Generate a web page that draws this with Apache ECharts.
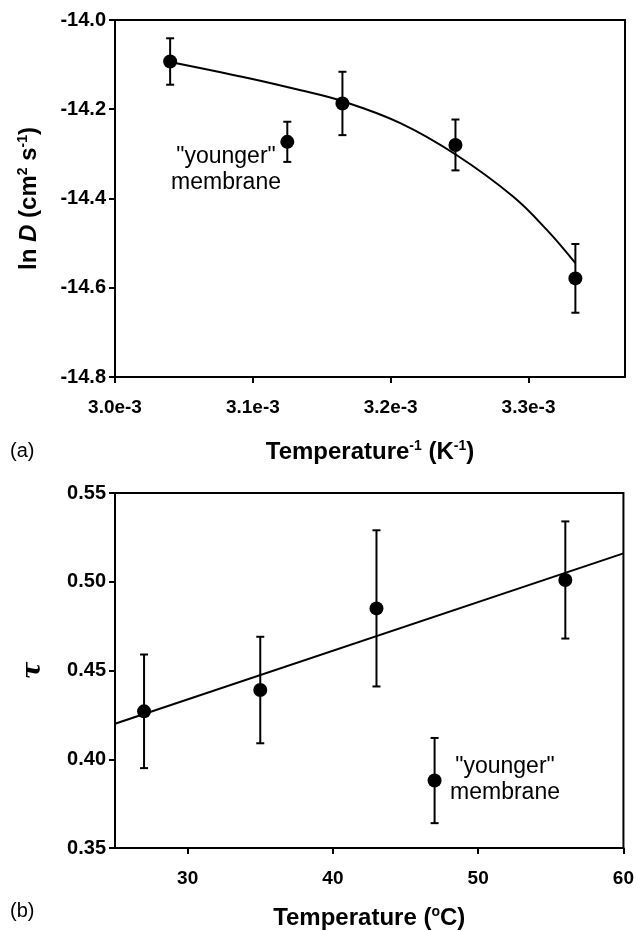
<!DOCTYPE html>
<html>
<head>
<meta charset="utf-8">
<script src="https://cdn.jsdelivr.net/npm/echarts@6/dist/echarts.min.js"></script>
<style>
html,body{margin:0;padding:0;background:#fff;}
#c{width:637px;height:931px;}
</style>
</head>
<body>
<div id="c"></div>
<script>
// ---- Panel (a): ln D vs 1/T ----
var invT = [0.003040, 0.003165, 0.003247, 0.003334];
var lnD = [-14.093, -14.187, -14.280, -14.579];
var lnDErr = [0.052, 0.071, 0.057, 0.077];
var youngInvT = [0.003125];
var youngLnD = [-14.273];
var youngLnDErr = [0.045];
// fitted curve
var curveX = [0.003040, 0.003098, 0.003134, 0.003165, 0.003207, 0.003248, 0.003289, 0.0033135, 0.003334];
var curveY = [-14.094, -14.131, -14.157, -14.182, -14.231, -14.303, -14.396, -14.471, -14.545];
var xTicksA = [0.0030, 0.0031, 0.0032, 0.0033];

// ---- Panel (b): tau vs T ----
var tempC = [27, 35, 43, 56];
var tau = [0.427, 0.439, 0.485, 0.501];
var tauErr = [0.032, 0.030, 0.044, 0.033];
var youngT = [47];
var youngTau = [0.388];
var youngTauErr = [0.024];
var fitT = [25, 60];
var fitTau = [0.420, 0.516];
var xTicksB = [30, 40, 50, 60];

var FONT = '"Liberation Sans", Arial, Helvetica, sans-serif';
var chart = echarts.init(document.getElementById('c'));

function zip(a, b) { return a.map(function (v, i) { return [v, b[i]]; }); }
function errData(xs, ys, es) { return xs.map(function (v, i) { return [v, ys[i] - es[i], ys[i] + es[i]]; }); }
function errRender(params, api) {
  var lo = api.coord([api.value(0), api.value(1)]);
  var hi = api.coord([api.value(0), api.value(2)]);
  var w = 4;
  var st = { stroke: '#000', lineWidth: 2 };
  return {
    type: 'group',
    children: [
      { type: 'line', shape: { x1: lo[0], y1: lo[1], x2: hi[0], y2: hi[1] }, style: st },
      { type: 'line', shape: { x1: lo[0] - w, y1: lo[1], x2: lo[0] + w, y2: lo[1] }, style: st },
      { type: 'line', shape: { x1: hi[0] - w, y1: hi[1], x2: hi[0] + w, y2: hi[1] }, style: st }
    ]
  };
}

var xTickLabel = { color: '#000', fontFamily: FONT, fontWeight: 'bold', fontSize: 19 };
var yTickLabel = { color: '#000', fontFamily: FONT, fontWeight: 'bold', fontSize: 20 };
var nameStyle = {
  color: '#000', fontFamily: FONT, fontWeight: 'bold', fontSize: 24,
  rich: {
    sup: { fontFamily: FONT, fontWeight: 'bold', fontSize: 14, color: '#000', padding: [0, 0, 12, 0] },
    it: { fontFamily: FONT, fontWeight: 'bold', fontStyle: 'italic', fontSize: 24, color: '#000' }
  }
};
var axLine = { show: true, onZero: false, lineStyle: { color: '#000', width: 2 } };
var dotStyle = { color: '#000', opacity: 1 };

chart.setOption({
  animation: false,
  backgroundColor: '#fff',
  grid: [
    { left: 115, top: 20, width: 510, height: 357, show: true, borderColor: '#000', borderWidth: 2, containLabel: false },
    { left: 115, top: 493, width: 510, height: 357, show: true, borderColor: '#000', borderWidth: 2, containLabel: false }
  ],
  xAxis: [
    {
      gridIndex: 0, type: 'value', min: 0.0030, max: 0.00337,
      axisLine: axLine, splitLine: { show: false },
      axisTick: { show: true, length: 6, lineStyle: { color: '#000', width: 2 }, customValues: xTicksA },
      axisLabel: Object.assign({ margin: 21, customValues: xTicksA, formatter: function (v) { return (v * 1000).toFixed(1) + 'e-3'; } }, xTickLabel),
      name: 'Temperature{sup|-1} (K{sup|-1})', nameLocation: 'middle', nameGap: 62, nameTextStyle: nameStyle
    },
    {
      gridIndex: 1, type: 'value', min: 25, max: 60,
      axisLine: axLine, splitLine: { show: false },
      axisTick: { show: true, length: 6, lineStyle: { color: '#000', width: 2 }, customValues: xTicksB },
      axisLabel: Object.assign({ margin: 21, customValues: xTicksB }, xTickLabel),
      name: 'Temperature ({sup|o}C)', nameLocation: 'middle', nameGap: 57, nameTextStyle: nameStyle
    }
  ],
  yAxis: [
    {
      gridIndex: 0, type: 'value', min: -14.8, max: -14.0, interval: 0.2,
      axisLine: axLine, splitLine: { show: false },
      axisTick: { show: true, length: 6, lineStyle: { color: '#000', width: 2 } },
      axisLabel: Object.assign({ margin: 9, formatter: function (v) { return v.toFixed(1); } }, yTickLabel),
      name: 'ln {it|D} (cm{sup|2} s{sup|-1})', nameLocation: 'middle', nameGap: 73, nameTextStyle: nameStyle
    },
    {
      gridIndex: 1, type: 'value', min: 0.35, max: 0.55, interval: 0.05,
      axisLine: axLine, splitLine: { show: false },
      axisTick: { show: true, length: 6, lineStyle: { color: '#000', width: 2 } },
      axisLabel: Object.assign({ margin: 9, formatter: function (v) { return v.toFixed(2); } }, yTickLabel),
      name: 'τ', nameLocation: 'middle', nameGap: 69,
      nameTextStyle: { color: '#000', fontFamily: '"DejaVu Serif", serif', fontWeight: 'bold', fontStyle: 'italic', fontSize: 26 }
    }
  ],
  series: [
    { type: 'line', xAxisIndex: 0, yAxisIndex: 0, data: zip(curveX, curveY), smooth: 0.4, showSymbol: false, lineStyle: { color: '#000', width: 2 }, z: 2 },
    { type: 'custom', xAxisIndex: 0, yAxisIndex: 0, data: errData(invT, lnD, lnDErr), renderItem: errRender, z: 3 },
    { type: 'custom', xAxisIndex: 0, yAxisIndex: 0, data: errData(youngInvT, youngLnD, youngLnDErr), renderItem: errRender, z: 3 },
    { type: 'scatter', xAxisIndex: 0, yAxisIndex: 0, data: zip(invT, lnD), symbolSize: 14, itemStyle: dotStyle, z: 4 },
    { type: 'scatter', xAxisIndex: 0, yAxisIndex: 0, data: zip(youngInvT, youngLnD), symbolSize: 14, itemStyle: dotStyle, z: 4 },

    { type: 'line', xAxisIndex: 1, yAxisIndex: 1, data: zip(fitT, fitTau), showSymbol: false, lineStyle: { color: '#000', width: 2 }, z: 2 },
    { type: 'custom', xAxisIndex: 1, yAxisIndex: 1, data: errData(tempC, tau, tauErr), renderItem: errRender, z: 3 },
    { type: 'custom', xAxisIndex: 1, yAxisIndex: 1, data: errData(youngT, youngTau, youngTauErr), renderItem: errRender, z: 3 },
    { type: 'scatter', xAxisIndex: 1, yAxisIndex: 1, data: zip(tempC, tau), symbolSize: 14, itemStyle: dotStyle, z: 4 },
    { type: 'scatter', xAxisIndex: 1, yAxisIndex: 1, data: zip(youngT, youngTau), symbolSize: 14, itemStyle: dotStyle, z: 4 }
  ],
  graphic: [
    { type: 'text', left: 10, top: 441, style: { text: '(a)', fontFamily: FONT, fontSize: 20, fill: '#000' } },
    { type: 'text', left: 10, top: 901, style: { text: '(b)', fontFamily: FONT, fontSize: 20, fill: '#000' } },
    { type: 'text', x: 226, y: 170, style: { text: '"younger"\nmembrane', fontFamily: FONT, fontSize: 23, lineHeight: 26, fill: '#000', align: 'center', verticalAlign: 'middle' } },
    { type: 'text', x: 505, y: 780, style: { text: '"younger"\nmembrane', fontFamily: FONT, fontSize: 23, lineHeight: 26, fill: '#000', align: 'center', verticalAlign: 'middle' } }
  ]
});
</script>
</body>
</html>
